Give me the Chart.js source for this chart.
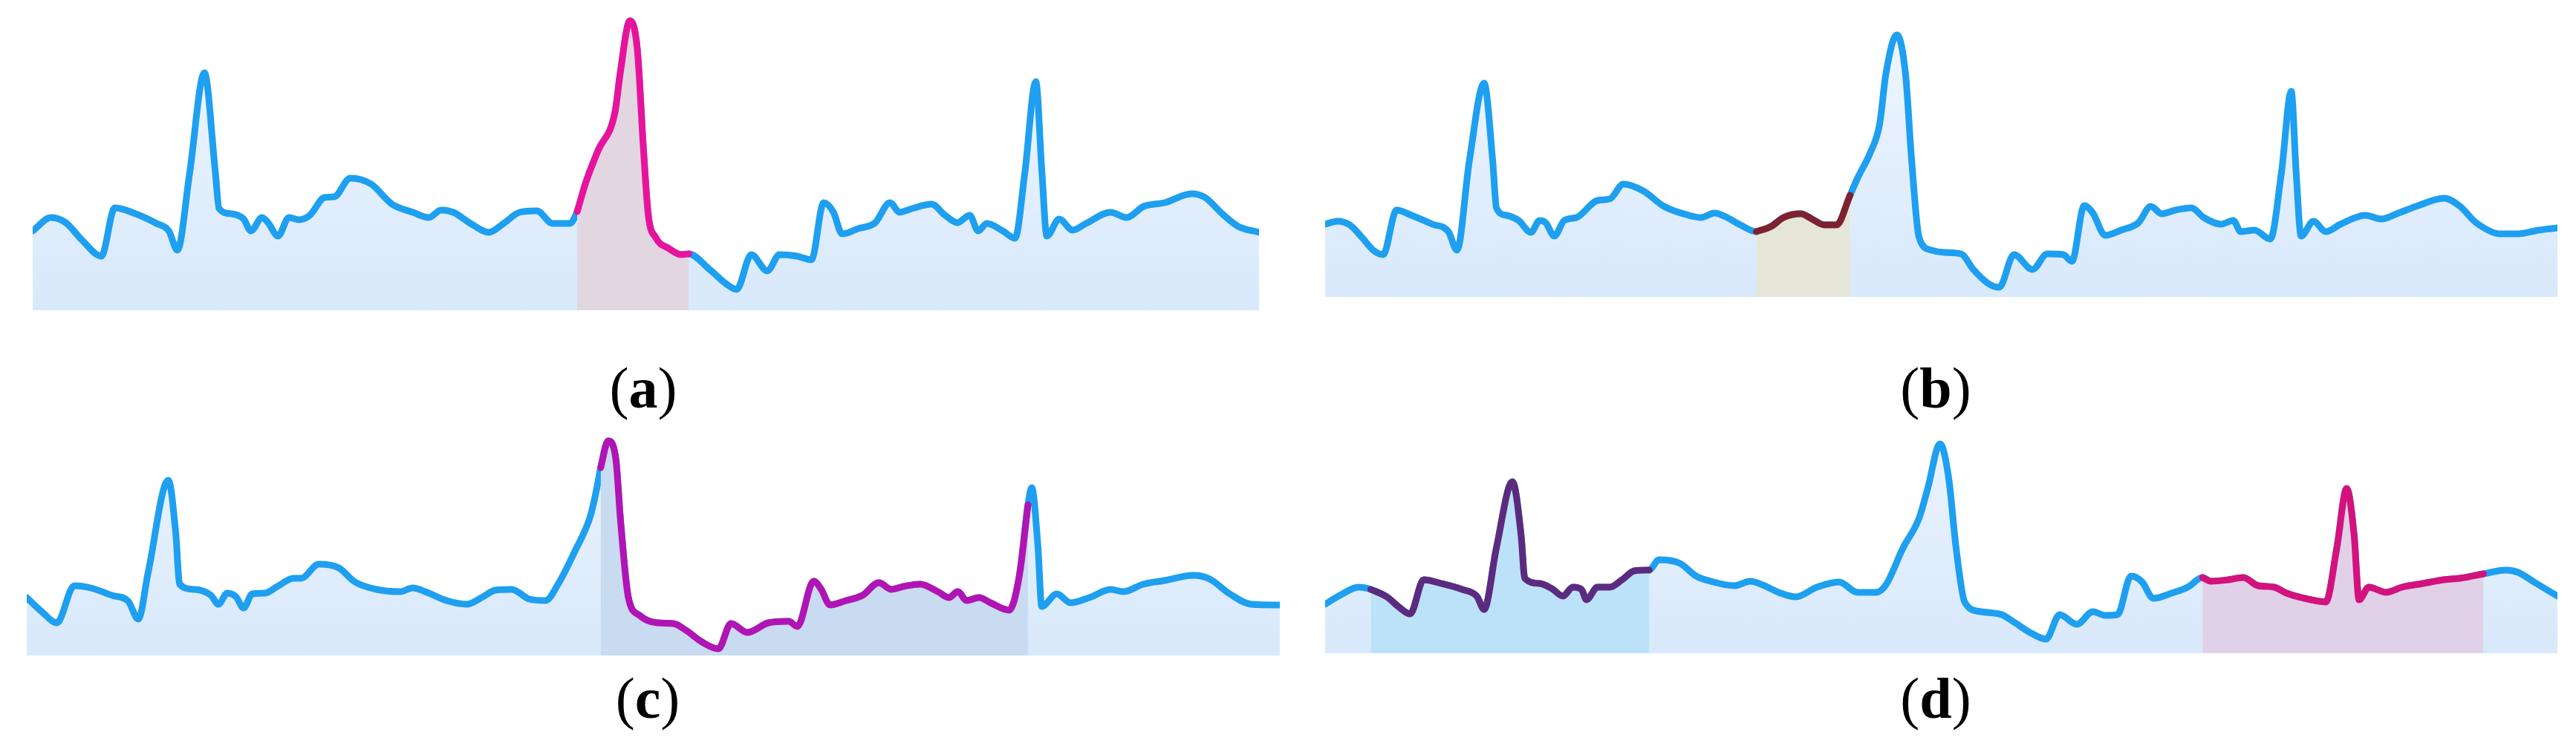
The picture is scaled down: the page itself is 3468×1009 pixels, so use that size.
<!DOCTYPE html>
<html>
<head>
<meta charset="utf-8">
<script src="https://cdn.jsdelivr.net/npm/chart.js@4.4.1/dist/chart.umd.min.js"></script>
<style>
  body { margin: 0; width: 3468px; height: 1009px; background: #fff; position: relative; overflow: hidden; }
  canvas { position: absolute; }
  .lbl { position: absolute; width: 200px; text-align: center; font-family: "Liberation Serif", "DejaVu Serif", serif; font-size: 78px; line-height: 76px; color: #000; }
</style>
</head>
<body>
<canvas id="chartA" style="left:44px;top:0px" width="1651" height="418"></canvas>
<canvas id="chartB" style="left:1784px;top:0px" width="1659" height="400"></canvas>
<canvas id="chartC" style="left:36px;top:504px" width="1687" height="379"></canvas>
<canvas id="chartD" style="left:1784px;top:504px" width="1659" height="376"></canvas>
<div class="lbl" style="left:766px;top:485px">(<b>a</b>)</div>
<div class="lbl" style="left:2506px;top:485px">(<b>b</b>)</div>
<div class="lbl" style="left:772px;top:903px">(<b>c</b>)</div>
<div class="lbl" style="left:2506px;top:903px">(<b>d</b>)</div>
<script>
// ECG traces, x in % of panel width, y in px above the baseline

// panel (a)
const aX = [0,1.5,2.7,4.0,5.6,6.7,8.4,10.1,11.1,11.8,12.8,14.0,14.9,15.2,16.2,17.2,17.8,18.7,19.2,20.0,20.9,21.7,22.6,23.8,24.6,25.9,27.6,29.3,31.0,32.3,33.3,34.3,35.7,37.2,38.4,39.7,41.1,42.4,43.8,44.4,45.1,46.1,47.5,47.9,48.7,49.3,49.8,50.2,50.8,51.9,52.9,53.5,55.2,56.6,57.4,58.6,59.9,60.9,62.3,63.5,64.5,65.3,66.0,67.3,68.7,69.9,70.7,71.7,73.3,74.4,75.4,76.4,77.1,77.8,79.1,80.1,80.9,81.8,82.3,82.7,83.7,84.8,85.9,87.9,89.2,90.6,92.3,94.5,95.6,97.0,98.3,100];
const aY = [107,125,118,95,73,138,130,117,107,81,185,320,185,137,130,123,107,125,118,100,125,122,128,152,153,178,170,143,132,125,135,132,117,105,117,132,134,117,117,133,172,215,268,318,390,352,218,128,98,83,75,76,55,35,28,75,53,75,73,68,145,132,103,110,118,145,132,137,143,128,118,128,107,117,107,97,185,308,185,100,123,108,117,132,125,140,145,157,152,130,113,105];
const aHigh = [44.4, 53.5];

// panel (b)
const bX = [0,1.0,2.0,3.0,3.9,4.7,5.8,7.0,8.7,10.0,10.7,11.7,12.9,13.6,13.9,14.7,15.7,16.7,17.4,17.9,18.6,19.4,20.4,22.1,23.1,24.2,25.8,27.5,29.5,30.5,31.6,32.5,33.7,35.0,36.2,37.2,38.6,39.5,40.5,41.5,42.6,43.2,44.2,45.0,45.5,46.4,47.1,47.6,48.2,49.2,50.2,51.6,52.6,53.9,54.7,55.9,57.4,58.6,59.9,60.6,61.6,62.3,63.3,64.6,66.0,67.0,67.9,69.0,70.3,71.3,72.7,73.7,74.3,75.4,76.7,77.6,78.4,78.8,79.2,80.2,81.2,82.4,84.4,85.7,87.1,88.7,90.8,92.1,93.4,95.4,96.8,98.5,100];
const bY = [98,102,97,80,63,57,117,110,98,88,63,183,288,183,120,110,103,87,103,100,82,103,107,130,132,152,143,122,110,107,113,108,97,88,95,107,112,105,97,97,137,160,193,233,300,353,300,183,80,63,60,58,37,17,13,57,37,58,57,48,123,113,83,90,100,122,112,117,120,107,98,103,88,90,78,167,277,167,82,102,88,98,110,105,113,123,133,122,100,85,85,90,93];
const bHigh = [35.0, 42.6];

// panel (c)
const cX = [0,1.2,2.4,3.8,5.1,6.8,8.1,8.9,9.7,11.3,11.9,12.2,13.4,14.7,15.3,16.0,16.7,17.3,18.0,19.0,20.0,21.3,21.9,23.3,24.9,26.2,27.9,29.8,30.8,31.8,33.5,35.1,36.4,37.4,38.7,40.1,41.4,42.4,43.7,45.0,45.5,45.8,46.4,47.0,47.4,48.0,48.9,50.3,51.6,52.6,53.9,55.2,56.2,57.5,59.2,60.8,61.5,62.8,63.4,64.1,65.4,66.7,68.0,69.0,70.0,71.3,72.7,73.6,74.3,75.0,76.0,76.9,78.4,79.2,79.9,80.2,80.7,81.0,82.2,83.3,84.8,86.5,87.5,89.1,90.8,93.1,94.4,96.0,97.7,100];
const cY = [78,59,44,94,91,81,73,49,113,236,163,96,89,81,69,84,79,64,83,84,93,104,104,123,118,99,89,86,91,86,74,69,79,88,89,76,74,96,139,189,226,253,289,266,179,79,54,44,43,34,18,9,43,31,44,46,39,100,89,68,74,81,98,89,93,96,86,78,86,74,78,71,61,106,203,226,146,66,83,71,78,89,86,96,101,108,103,83,69,68];
const cHigh = [45.8, 79.9];

// panel (d)
const dX = [0,1.3,2.7,3.7,5.0,6.0,6.9,8.0,9.4,11.1,12.3,12.9,13.9,15.2,15.9,16.2,17.4,18.4,19.3,20.1,20.8,21.2,22.1,23.1,24.1,25.1,26.3,27.1,28.8,30.1,31.5,33.2,34.5,35.5,36.8,38.2,39.9,41.7,43.2,44.7,45.5,46.9,48.2,48.9,49.9,50.6,51.2,51.9,53.2,54.9,55.9,57.3,58.5,59.6,61.0,62.3,63.3,64.3,65.4,66.3,67.2,68.7,70.0,71.2,71.9,73.3,74.5,75.7,77.0,78.0,80.0,81.2,82.1,82.9,83.5,83.9,84.7,86.1,87.4,89.1,90.8,92.1,94.0,95.8,96.8,98.1,100];
const dY = [66,79,89,86,76,62,53,99,94,86,77,59,142,231,159,101,94,87,77,89,86,72,89,89,99,111,112,126,121,104,96,91,97,92,82,76,89,96,82,82,92,142,182,222,282,236,142,69,56,52,42,27,19,52,39,56,51,52,104,96,74,81,89,102,97,99,102,91,89,81,72,69,142,222,159,72,89,82,89,94,99,101,107,112,109,96,77];
const dHigh1 = [3.7, 26.3];
const dHigh2 = [71.2, 94.0];

const blue = '#1e9ff0';

function baseFill(ctx) {
  const chart = ctx.chart;
  const area = chart.chartArea;
  if (!area) return '#dcebfb';
  const g = chart.ctx.createLinearGradient(0, area.top, 0, area.bottom);
  g.addColorStop(0, '#f1f7fe');
  g.addColorStop(0.6, '#e2eefc');
  g.addColorStop(1, '#d8e9fb');
  return g;
}

function points(xs, ys, range) {
  const out = [];
  for (let i = 0; i < xs.length; i += 1) {
    if (!range || (xs[i] >= range[0] && xs[i] <= range[1])) {
      out.push({ x: xs[i], y: ys[i] });
    }
  }
  return out;
}

function drawPanel(id, xs, ys, yMax, highs) {
  const datasets = [];
  // highlights first so they sit on top of the blue trace
  highs.forEach(h => {
    datasets.push({
      data: points(xs, ys, h.range),
      borderColor: h.line,
      backgroundColor: h.fill,
      fill: 'origin',
      borderWidth: 9
    });
  });
  datasets.push({
    data: points(xs, ys),
    borderColor: blue,
    backgroundColor: baseFill,
    fill: 'origin',
    borderWidth: 9
  });
  new Chart(document.getElementById(id), {
    type: 'line',
    data: { datasets: datasets },
    options: {
      responsive: false,
      animation: false,
      devicePixelRatio: 1,
      layout: { padding: 0 },
      elements: {
        point: { radius: 0 },
        line: { cubicInterpolationMode: 'monotone', borderCapStyle: 'round', borderJoinStyle: 'round' }
      },
      scales: {
        x: { type: 'linear', min: 0, max: 100, display: false },
        y: { min: 0, max: yMax, display: false }
      },
      plugins: { legend: { display: false }, tooltip: { enabled: false } }
    }
  });
}

drawPanel('chartA', aX, aY, 418, [
  { range: aHigh, line: '#e8139d', fill: '#e2d7e1' }
]);
drawPanel('chartB', bX, bY, 400, [
  { range: bHigh, line: '#7e2130', fill: '#e5e6d8' }
]);
drawPanel('chartC', cX, cY, 379, [
  { range: cHigh, line: '#b114b4', fill: '#c9dbf1' }
]);
drawPanel('chartD', dX, dY, 376, [
  { range: dHigh1, line: '#5c2b80', fill: '#bce2fa' },
  { range: dHigh2, line: '#d3127d', fill: '#e0d1e8' }
]);
</script>
</body>
</html>
